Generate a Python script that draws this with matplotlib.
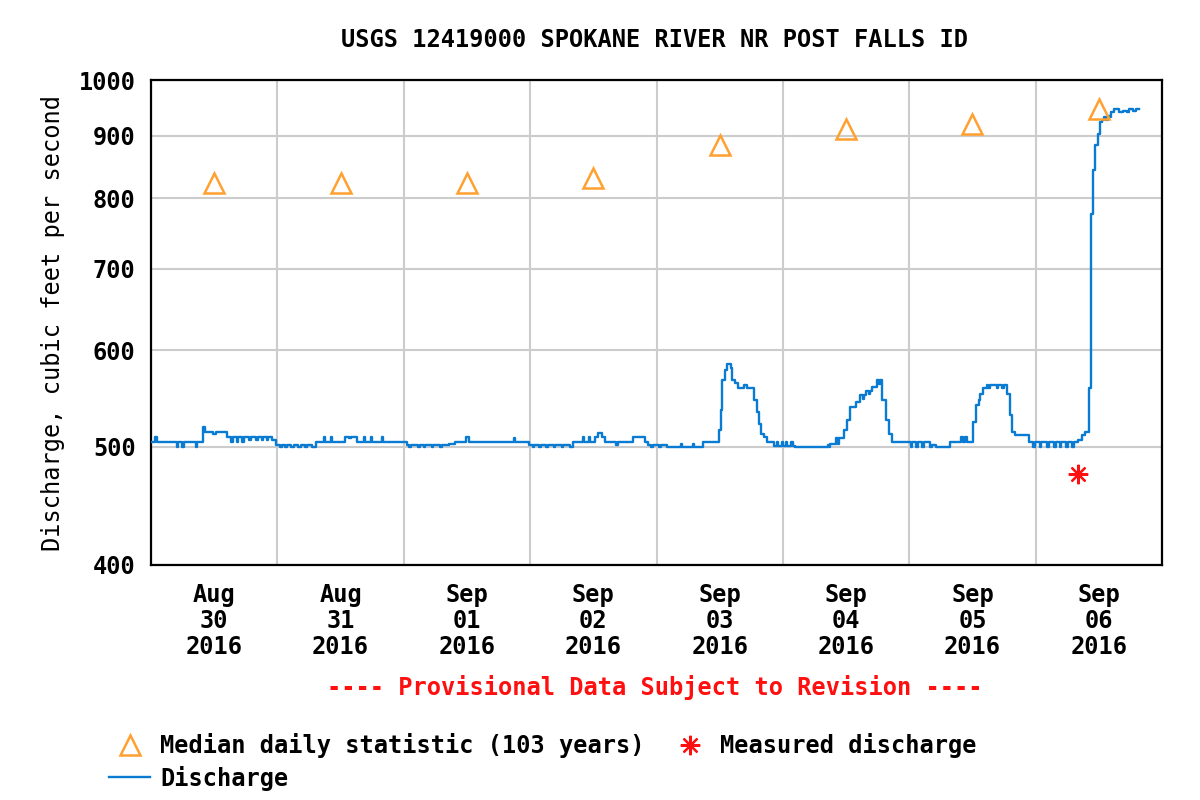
import numpy as np
import matplotlib
matplotlib.use('Agg')
import matplotlib.pyplot as plt
import matplotlib.dates as mdates
from matplotlib.ticker import FixedLocator, NullLocator, NullFormatter

plt.rcParams['font.family'] = ['DejaVu Sans Mono']
plt.rcParams['font.weight'] = 'bold'
FS = 17

# discharge: hours after 2016-08-30 00:00 and cfs (step changes)
q_hours = [0.0, 0.8, 1.1, 4.9, 5.2, 5.9, 6.2, 8.5, 8.8, 9.8, 10.2, 11.7, 12.4,
           14.5, 15.2, 15.5, 16.3, 16.6, 17.3, 17.6, 18.7, 19.0, 20.0, 20.3, 21.0,
           21.3, 22.0, 22.3, 23.0, 23.7,
           24.5, 24.8, 25.5, 25.8, 26.5, 27.2, 28.0, 28.4, 29.3, 29.6, 30.5, 31.3,
           32.8, 33.1, 34.1, 34.4, 36.9, 37.6, 38.0, 39.2, 40.4, 40.7, 41.7, 42.0,
           43.8, 44.1,
           48.7, 49.0, 49.3, 50.8, 51.1, 51.8, 52.1, 53.3, 53.6, 54.9, 55.2, 56.5,
           57.8, 59.8, 60.3, 68.9, 69.1, 71.8,
           72.5, 72.8, 73.7, 74.0, 75.0, 75.3, 76.5, 76.8, 78.0, 78.3, 79.5, 80.2,
           82.0, 82.3, 83.1, 83.4, 84.4, 84.8, 85.6, 86.2, 88.4, 88.6, 91.5, 93.8,
           94.3, 95.0, 95.3, 96.5, 96.8,
           97.3, 98.0, 100.6, 100.9, 102.9, 103.2, 104.8, 107.8, 108.2, 108.5, 109.0,
           109.4, 110.1, 110.4, 111.0, 111.5, 112.6, 113.2, 114.5, 115.1, 115.4,
           115.8, 116.4, 117.0, 118.3, 118.8, 119.1, 119.8, 120.1,
           120.5, 120.8, 121.6, 121.9, 122.3, 128.5, 128.8, 129.0, 130.0, 130.4,
           130.7, 131.6, 132.2, 132.8, 133.8, 134.7, 135.2, 135.5, 135.7, 136.3,
           136.6, 136.9, 137.9, 138.2, 138.4, 138.8, 139.5, 140.1, 140.7,
           144.3, 144.6, 145.3, 145.6, 146.5, 146.8, 148.0, 148.3, 149.0, 151.7,
           153.9, 154.2, 154.6, 154.9, 156.2, 156.7, 157.2, 157.5, 158.1, 158.7,
           159.0, 159.4, 160.6, 160.9, 161.6, 161.9, 162.5, 163.2, 163.5, 164.0,
           166.7,
           167.5, 167.8, 168.8, 169.1, 170.2, 170.5, 171.5, 171.8, 172.6, 172.9,
           173.8, 174.1, 175.0, 175.3, 176.1, 176.8, 177.4, 178.2, 178.5, 178.9,
           179.3, 179.9, 180.2, 180.6, 181.0, 181.4, 181.7, 182.1, 182.4, 182.8,
           183.8, 184.5, 185.3, 185.8, 186.5, 187.0, 187.6]
q_cfs = [505, 509, 505, 500, 505, 500, 505, 500, 505, 519, 514, 512, 514,
         509, 505, 509, 505, 509, 505, 509, 507, 509, 507, 509, 507,
         509, 507, 509, 507, 502,
         500, 502, 500, 502, 500, 502, 500, 502, 500, 502, 500, 505,
         509, 505, 509, 505, 509, 508, 509, 505, 509, 505, 509, 505,
         509, 505,
         502, 500, 502, 500, 502, 500, 502, 500, 502, 500, 502, 503,
         505, 509, 505, 508, 505, 502,
         500, 502, 500, 502, 500, 502, 500, 502, 500, 502, 500, 505,
         509, 505, 509, 505, 509, 513, 509, 505, 502, 505, 509, 505,
         502, 500, 502, 500, 502,
         502, 500, 503, 500, 503, 500, 505, 516, 536, 567, 578,
         585, 580, 567, 564, 559, 562, 559, 546, 534, 522,
         512, 509, 505, 501, 505, 501, 505, 501,
         505, 501, 505, 501, 500, 502, 500, 503, 508, 503,
         508, 516, 526, 539, 544, 551, 547, 551, 556, 553,
         556, 560, 567, 563, 567, 546, 526, 512, 505,
         500, 505, 500, 505, 500, 505, 500, 502, 500, 505,
         509, 505, 509, 505, 524, 541, 546, 553, 559, 562,
         559, 562, 559, 562, 559, 562, 553, 531, 514, 511,
         505,
         500, 505, 500, 505, 500, 505, 500, 505, 500, 505,
         500, 505, 500, 505, 507, 511, 514, 559, 777, 844,
         885, 903, 923, 927, 932, 927, 935, 932, 941, 946,
         941, 944, 941, 946, 943, 946, 946]

# median daily statistic (103 years), one per day at noon
median_days = ['2016-08-30', '2016-08-31', '2016-09-01', '2016-09-02',
               '2016-09-03', '2016-09-04', '2016-09-05', '2016-09-06']
median_cfs = [823, 823, 823, 831, 885, 912, 921, 946]

# field measurement
measured_time = ['2016-09-06T08:05']
measured_cfs = [475]

y_ticks = [400, 500, 600, 700, 800, 900, 1000]

t0 = np.datetime64('2016-08-30T00:00')
q_time = t0 + np.round(np.array(q_hours) * 60).astype('timedelta64[m]')
median_time = np.array(median_days, dtype='datetime64[m]') + np.timedelta64(12, 'h')
meas_time = np.array(measured_time, dtype='datetime64[m]')

fig = plt.figure(figsize=(12, 8), dpi=100)
ax = fig.add_axes([151/1200, 1 - 565/800, (1162 - 151)/1200, (565 - 80)/800])

ax.plot(q_time, q_cfs, color='#0a7bd2', lw=1.7, drawstyle='steps-post',
        label='Discharge', zorder=3)
ax.plot(median_time, median_cfs, ls='none', marker='^', ms=14, mfc='none',
        mec='#ffa030', mew=1.8, label='Median daily statistic (103 years)', zorder=4)
ax.plot(meas_time, measured_cfs, ls='none', marker=(8, 2, 0), ms=14,
        mec='#ff1010', mew=1.6, label='Measured discharge', zorder=4)

ax.set_yscale('log')
ax.set_ylim(400, 1000)
ax.yaxis.set_major_locator(FixedLocator(y_ticks))
ax.yaxis.set_major_formatter(plt.FixedFormatter([str(v) for v in y_ticks]))
ax.yaxis.set_minor_locator(NullLocator())
ax.yaxis.set_minor_formatter(NullFormatter())

ax.set_xlim(np.datetime64('2016-08-30T00:00'), np.datetime64('2016-09-07T00:00'))
ax.xaxis.set_major_locator(mdates.DayLocator())
ax.xaxis.set_major_formatter(NullFormatter())
ax.xaxis.set_minor_locator(mdates.HourLocator(byhour=[12]))
ax.xaxis.set_minor_formatter(mdates.DateFormatter('%b\n%d\n%Y'))

ax.grid(True, which='major', color='#cccccc', lw=1.5)
ax.set_axisbelow(True)
ax.tick_params(axis='both', which='both', length=0, labelsize=FS)
ax.tick_params(axis='x', which='minor', pad=13)
ax.tick_params(axis='y', pad=11)
for lab in ax.get_xticklabels(minor=True):
    lab.set_linespacing(1.1)
for s in ax.spines.values():
    s.set_linewidth(1.6)
    s.set_color('black')

ax.set_ylabel('Discharge, cubic feet per second', fontsize=FS, labelpad=10)
fig.text(655/1200, 1 - 40/800, 'USGS 12419000 SPOKANE RIVER NR POST FALLS ID',
         ha='center', va='center', fontsize=FS)
fig.text(655/1200, 1 - 688/800, '---- Provisional Data Subject to Revision ----',
         ha='center', va='center', fontsize=FS, color='#ff1010')

h, l = ax.get_legend_handles_labels()
order = [1, 0, 2]
fig.legend([h[i] for i in order], [l[i] for i in order], ncol=2,
           loc='upper left', bbox_to_anchor=(100/1200, 1 - 724/800),
           frameon=False, fontsize=FS, handlelength=1.7, handletextpad=0.45,
           columnspacing=1.05, labelspacing=0.3, borderaxespad=0)

fig.savefig('out.png', dpi=100)
